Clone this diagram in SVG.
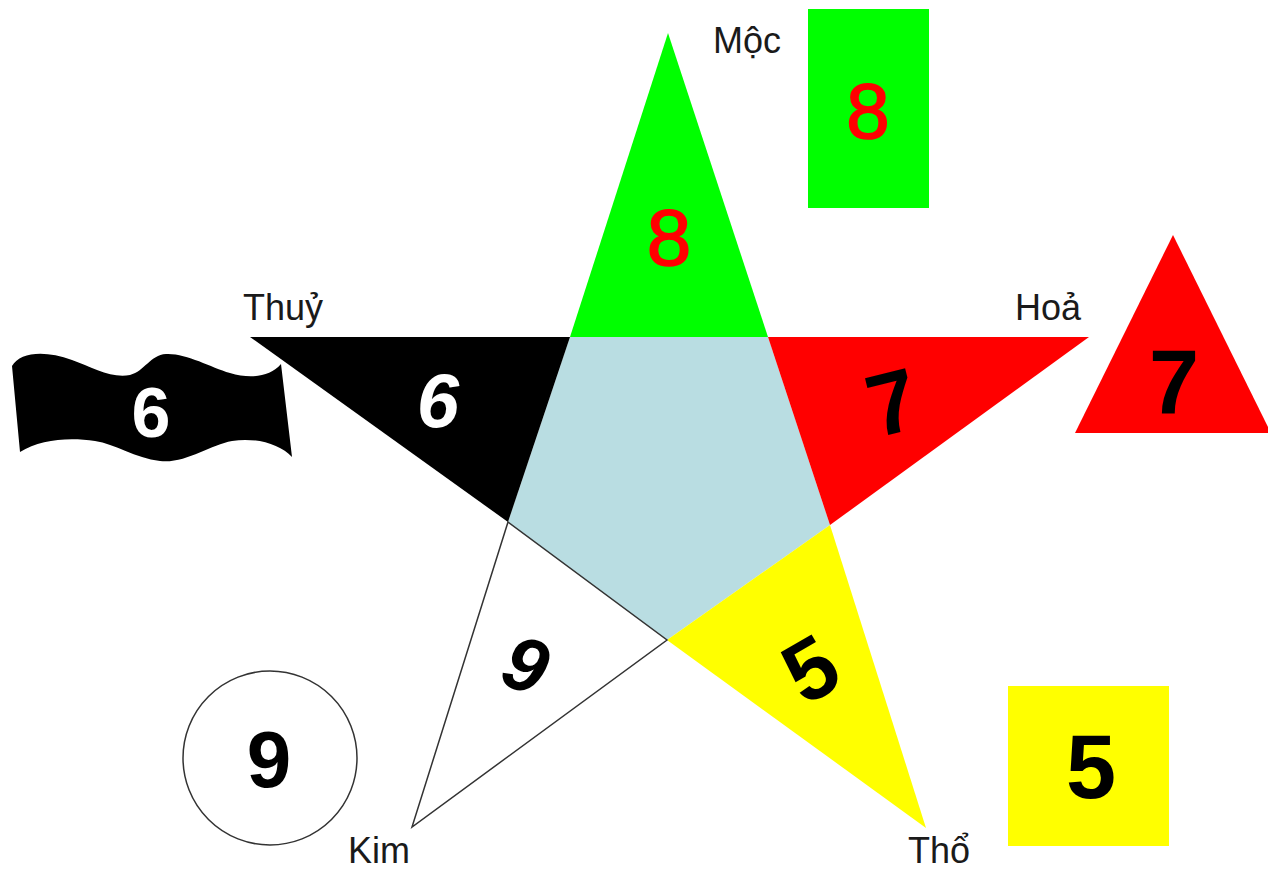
<svg xmlns="http://www.w3.org/2000/svg" width="1268" height="870" viewBox="0 0 1268 870">
<style>
.lbl{font-family:"Liberation Sans",Arial,sans-serif;font-size:36px;fill:#1a1a1a}
.num{font-family:"Liberation Sans",Arial,sans-serif;font-weight:bold;text-anchor:middle}
.med{font-weight:normal;stroke:#ff0000;stroke-width:1.6}
</style>
<rect width="1268" height="870" fill="#ffffff"/>
<g id="star">
  <polygon id="center" points="570,337 768,337 830,525 667,640 508,522" fill="#b9dde2"/>
  <g id="moc-arm">
    <polygon points="668,33 570,337 768,337" fill="#00ff00"/>
    <text class="num med" x="669" y="265" font-size="80" fill="#ff0000">8</text>
  </g>
  <g id="thuy-arm">
    <polygon points="250,337 570,337 508,522" fill="#000000"/>
    <text class="num" x="438" y="427" font-size="76" font-style="italic" fill="#ffffff">6</text>
  </g>
  <g id="hoa-arm">
    <polygon points="768,337 1089,337 830,525" fill="#ff0000"/>
    <text class="num" x="892" y="433" font-size="88" fill="#000" transform="rotate(-14 892 401)">7</text>
  </g>
  <g id="tho-arm">
    <polygon points="830,525 926,828 667,640" fill="#ffff00"/>
    <text class="num" x="810" y="699" font-size="86" fill="#000" transform="rotate(-30 810 668)">5</text>
  </g>
  <g id="kim-arm">
    <polygon points="508,522 667,640 412,827" fill="#ffffff" stroke="#333" stroke-width="1.5" stroke-linejoin="miter"/>
    <text class="num" x="526" y="691" font-size="76" font-style="italic" fill="#000" transform="rotate(18 526 664)">9</text>
  </g>
</g>
<g id="labels">
  <text class="lbl" x="713" y="53">Mộc</text>
  <text class="lbl" x="243" y="320">Thuỷ</text>
  <text class="lbl" x="1015" y="320">Hoả</text>
  <text class="lbl" x="348" y="863">Kim</text>
  <text class="lbl" x="908" y="863">Thổ</text>
</g>
<g id="moc-symbol">
  <rect x="808" y="9" width="121" height="199" fill="#00ff00"/>
  <text class="num med" x="868" y="138" font-size="78" fill="#ff0000">8</text>
</g>
<g id="thuy-symbol">
  <path d="M12,366 C20,352 45,350 72,360 C92,367 112,379 130,375 C145,371 150,355 166,354 C186,353 210,367 230,373 C250,379 270,377 281,364 L292,457 C280,444 255,437 232,441 C210,445 185,464 160,461 C135,458 115,444 95,441 C70,437 40,439 20,452 Z" fill="#000"/>
  <text class="num" x="151" y="437" font-size="70" fill="#ffffff">6</text>
</g>
<g id="hoa-symbol">
  <polygon points="1173,235 1075,433 1271,433" fill="#ff0000"/>
  <text class="num" x="1174" y="413" font-size="90" fill="#000">7</text>
</g>
<g id="tho-symbol">
  <rect x="1008" y="686" width="161" height="160" fill="#ffff00"/>
  <text class="num" x="1091" y="798" font-size="90" fill="#000">5</text>
</g>
<g id="kim-symbol">
  <circle cx="270" cy="758" r="87" fill="#fff" stroke="#333" stroke-width="1.5"/>
  <text class="num" x="269" y="787" font-size="80" fill="#000">9</text>
</g>
</svg>
